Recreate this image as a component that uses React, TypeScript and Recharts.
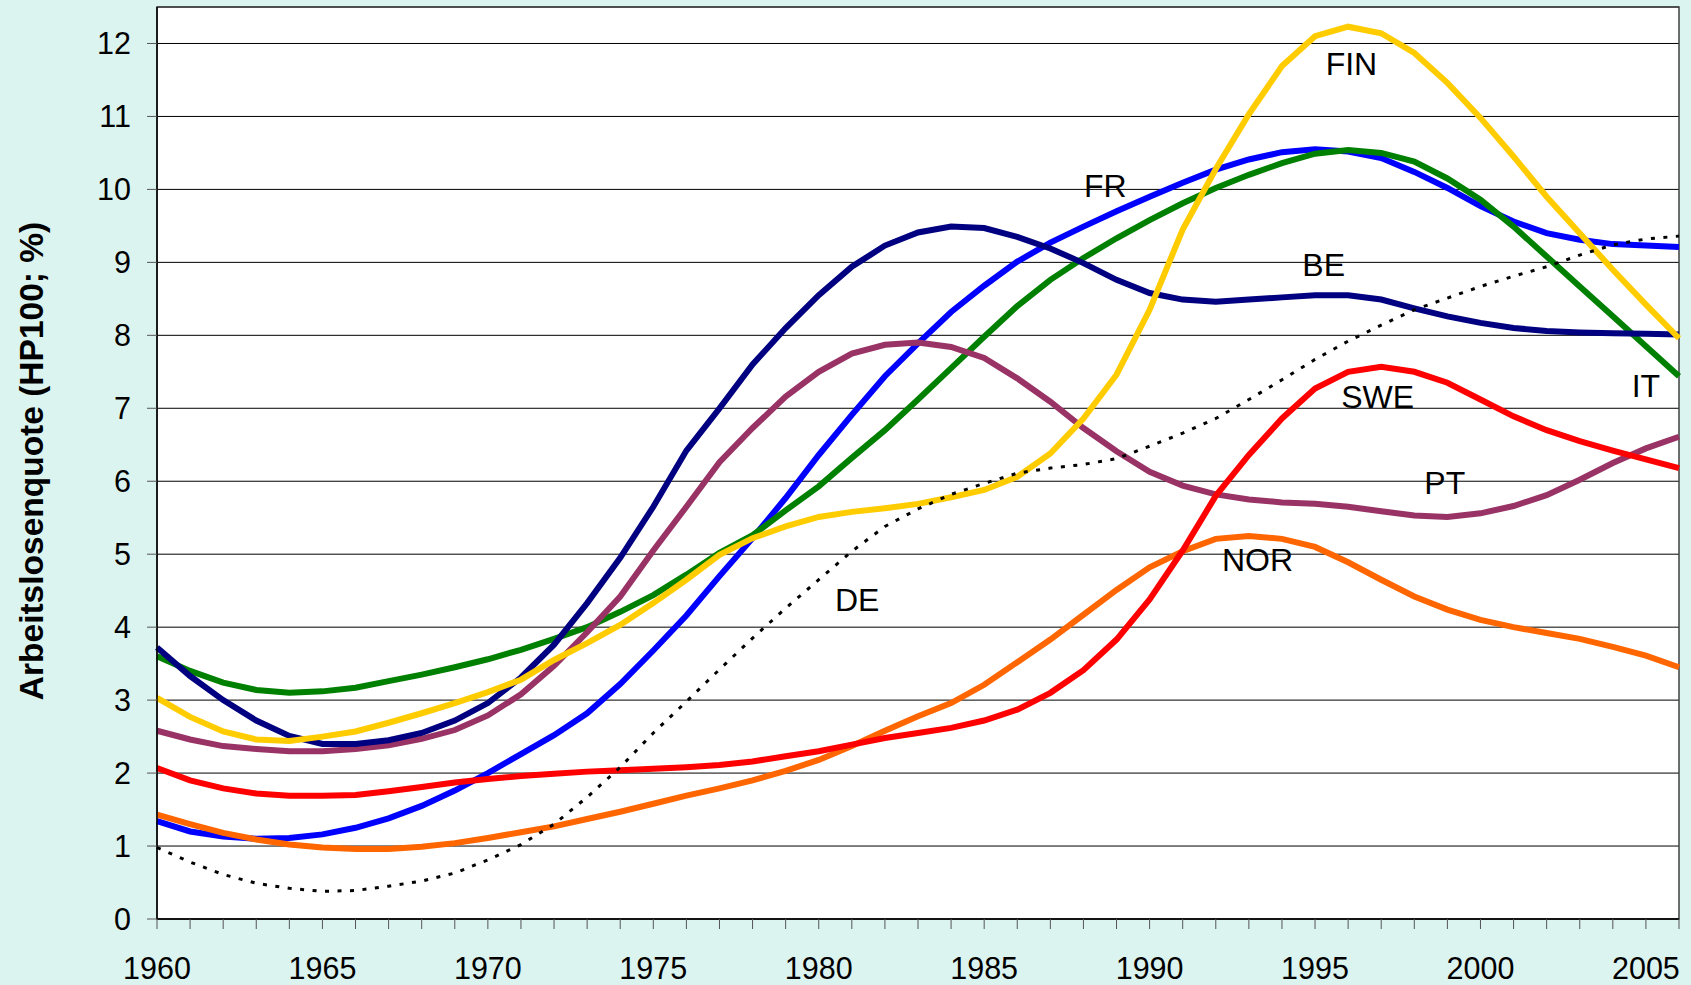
import React from "react";
import {
  LineChart,
  Line,
  XAxis,
  YAxis,
  CartesianGrid,
  ReferenceArea,
  ReferenceDot,
} from "recharts";

const years = [
  1960, 1961, 1962, 1963, 1964, 1965, 1966, 1967, 1968, 1969,
  1970, 1971, 1972, 1973, 1974, 1975, 1976, 1977, 1978, 1979,
  1980, 1981, 1982, 1983, 1984, 1985, 1986, 1987, 1988, 1989,
  1990, 1991, 1992, 1993, 1994, 1995, 1996, 1997, 1998, 1999,
  2000, 2001, 2002, 2003, 2004, 2005, 2006,
];

const yTicks = [0, 1, 2, 3, 4, 5, 6, 7, 8, 9, 10, 11, 12];

// Arbeitslosenquote, HP-Filter (lambda 100), in %
const be = [
  3.72, 3.33, 3.0, 2.72, 2.51, 2.4, 2.4, 2.45, 2.55, 2.72,
  2.96, 3.31, 3.76, 4.33, 4.95, 5.65, 6.42, 7.0, 7.6, 8.1,
  8.55, 8.94, 9.23, 9.41, 9.49, 9.47, 9.35, 9.19, 8.99, 8.76,
  8.58, 8.49, 8.46, 8.49, 8.52, 8.55, 8.55, 8.49, 8.37, 8.26,
  8.17, 8.1, 8.06, 8.04, 8.03, 8.02, 8.01,
];
const fr = [
  1.34, 1.2, 1.13, 1.1, 1.11, 1.16, 1.25, 1.38, 1.55, 1.76,
  2.0, 2.26, 2.52, 2.82, 3.22, 3.68, 4.16, 4.7, 5.22, 5.77,
  6.36, 6.91, 7.44, 7.89, 8.32, 8.68, 9.01, 9.27, 9.49, 9.7,
  9.9, 10.09, 10.27, 10.41, 10.51, 10.55, 10.52, 10.43, 10.24, 10.02,
  9.77, 9.56, 9.4, 9.31, 9.25, 9.23, 9.21,
];
const it = [
  3.6, 3.4, 3.24, 3.14, 3.1, 3.12, 3.17, 3.26, 3.35, 3.45,
  3.56, 3.69, 3.84, 4.0, 4.21, 4.44, 4.72, 5.02, 5.26, 5.6,
  5.93, 6.32, 6.7, 7.12, 7.55, 7.98, 8.4, 8.76, 9.06, 9.33,
  9.58, 9.81, 10.02, 10.2, 10.36, 10.49, 10.54, 10.5, 10.38, 10.15,
  9.86, 9.49, 9.08, 8.67, 8.26, 7.85, 7.44,
];
const fin = [
  3.03, 2.77, 2.57, 2.46, 2.44, 2.5, 2.57, 2.69, 2.82, 2.96,
  3.11, 3.28, 3.55, 3.78, 4.03, 4.33, 4.65, 4.99, 5.22, 5.38,
  5.51, 5.58, 5.63, 5.69, 5.78, 5.88, 6.06, 6.38, 6.86, 7.46,
  8.35, 9.45, 10.28, 11.03, 11.69, 12.1, 12.23, 12.14, 11.87, 11.46,
  10.98, 10.45, 9.9, 9.4, 8.9, 8.42, 7.96,
];
const pt = [
  2.58, 2.46, 2.37, 2.33, 2.3, 2.3, 2.33, 2.38, 2.47, 2.59,
  2.79, 3.08, 3.47, 3.93, 4.42, 5.05, 5.65, 6.26, 6.73, 7.16,
  7.5, 7.75, 7.87, 7.9, 7.84, 7.69, 7.41, 7.09, 6.73, 6.41,
  6.13, 5.94, 5.82, 5.75, 5.71, 5.69, 5.65, 5.59, 5.53, 5.51,
  5.56, 5.66, 5.81, 6.02, 6.25, 6.45, 6.61,
];
const swe = [
  2.07, 1.9, 1.79, 1.72, 1.69, 1.69, 1.7, 1.75, 1.81, 1.87,
  1.92, 1.96, 1.99, 2.02, 2.04, 2.06, 2.08, 2.11, 2.16, 2.23,
  2.3, 2.39, 2.48, 2.55, 2.62, 2.72, 2.87, 3.1, 3.41, 3.83,
  4.38, 5.05, 5.8, 6.36, 6.86, 7.27, 7.5, 7.57, 7.5, 7.35,
  7.12, 6.89, 6.7, 6.55, 6.42, 6.3, 6.18,
];
const nor = [
  1.43, 1.3, 1.18, 1.09, 1.02, 0.98, 0.96, 0.96, 0.99, 1.04,
  1.11, 1.19, 1.27, 1.37, 1.47, 1.58, 1.69, 1.79, 1.9, 2.03,
  2.18, 2.37, 2.58, 2.78, 2.96, 3.21, 3.52, 3.83, 4.17, 4.51,
  4.82, 5.04, 5.21, 5.25, 5.21, 5.1, 4.89, 4.65, 4.42, 4.24,
  4.1, 4.0, 3.92, 3.84, 3.73, 3.61, 3.45,
];
const de = [
  0.98, 0.78, 0.61, 0.49, 0.42, 0.38, 0.39, 0.45, 0.52, 0.63,
  0.81, 1.02, 1.3, 1.67, 2.08, 2.55, 2.98, 3.42, 3.85, 4.26,
  4.65, 5.04, 5.38, 5.62, 5.82, 5.97, 6.11, 6.18, 6.23, 6.31,
  6.48, 6.66, 6.86, 7.12, 7.39, 7.67, 7.92, 8.14, 8.35, 8.51,
  8.67, 8.81, 8.94, 9.1, 9.24, 9.32, 9.36,
];

// country tags written into the plot: [text, year, value]
const tags: [string, number, number][] = [
  ["FIN", 1996.1, 11.73],
  ["FR", 1988.66, 10.05],
  ["BE", 1995.26, 8.97],
  ["SWE", 1996.89, 7.16],
  ["IT", 2005.0, 7.31],
  ["PT", 1998.92, 5.98],
  ["NOR", 1993.26, 4.92],
  ["DE", 1981.16, 4.38],
];

const data = years.map((year, i) => ({
  year,
  BE: be[i],
  FR: fr[i],
  IT: it[i],
  FIN: fin[i],
  PT: pt[i],
  SWE: swe[i],
  NOR: nor[i],
  DE: de[i],
}));

const series = [
  { key: "FR", color: "#0000FF" },
  { key: "IT", color: "#008000" },
  { key: "PT", color: "#993366" },
  { key: "BE", color: "#000080" },
  { key: "NOR", color: "#FF6600" },
  { key: "FIN", color: "#FFCC00" },
  { key: "SWE", color: "#FF0000" },
];

const font = "'Liberation Sans', Arial, sans-serif";

const AxisTitle = (props: any) => {
  const vb = props.viewBox || { x: 0, y: 7, width: 157, height: 912 };
  const cx = vb.x + 43;
  const cy = vb.y + vb.height / 2 - 2;
  return (
    <text
      x={cx}
      y={cy}
      transform={`rotate(-90, ${cx}, ${cy})`}
      textAnchor="middle"
      fontFamily={font}
      fontWeight="bold"
      fontSize={33.5}
      fill="#000"
    >
      Arbeitslosenquote (HP100; %)
    </text>
  );
};

export default function App() {
  return (
    <div
      style={{
        position: "absolute",
        left: 0,
        top: 0,
        width: 1691,
        height: 985,
        background: "#DCF4F0",
        fontFamily: font,
      }}
    >
      <LineChart
        width={1691}
        height={985}
        data={data}
        margin={{ top: 7, right: 12, left: 0, bottom: 0 }}
      >
        <CartesianGrid
          vertical={false}
          stroke="#000"
          strokeWidth={1}
          fill="#ffffff"
          fillOpacity={1}
        />
        <XAxis
          dataKey="year"
          type="number"
          domain={[1960, 2006]}
          ticks={years}
          interval={0}
          height={66}
          tickSize={10}
          tickMargin={28}
          tickFormatter={(y: number) => (y % 5 === 0 ? `${y}` : "")}
          tick={{ fill: "#000", fontSize: 30.5, fontFamily: font }}
          tickLine={{ stroke: "#555" }}
          axisLine={{ stroke: "#000", strokeWidth: 1.5 }}
        />
        <YAxis
          type="number"
          domain={[0, 12.5]}
          ticks={yTicks}
          interval={0}
          width={157}
          tickSize={10}
          tickMargin={16}
          tick={{ fill: "#000", fontSize: 30.5, fontFamily: font }}
          tickLine={{ stroke: "#555" }}
          axisLine={{ stroke: "#000", strokeWidth: 1.5 }}
          label={{ content: AxisTitle }}
        />
        <ReferenceArea
          x1={1960}
          x2={2006}
          y1={0}
          y2={12.5}
          fill="none"
          fillOpacity={0}
          stroke="#404040"
          strokeWidth={1.5}
        />
        {series.map((s) => (
          <Line
            key={s.key}
            type="linear"
            dataKey={s.key}
            stroke={s.color}
            strokeWidth={6}
            dot={false}
            activeDot={false}
            isAnimationActive={false}
          />
        ))}
        <Line
          type="linear"
          dataKey="DE"
          stroke="#000"
          strokeWidth={3}
          strokeDasharray="4 8.5"
          dot={false}
          activeDot={false}
          isAnimationActive={false}
        />
        {tags.map(([text, x, y]) => (
          <ReferenceDot
            key={text}
            x={x}
            y={y}
            r={0}
            fill="none"
            stroke="none"
            label={{
              value: text,
              position: "center",
              fill: "#000",
              fontSize: 32,
              fontFamily: font,
            }}
          />
        ))}
      </LineChart>
    </div>
  );
}
